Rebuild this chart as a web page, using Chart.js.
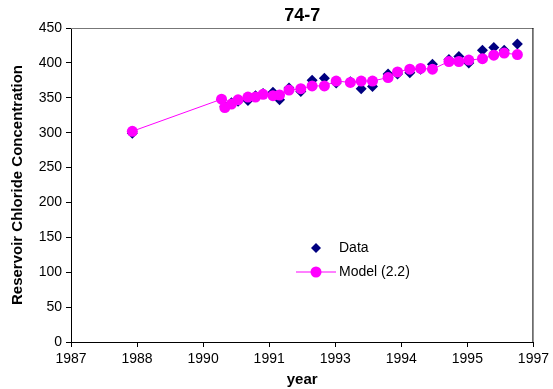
<!DOCTYPE html>
<html>
<head>
<meta charset="utf-8">
<script src="https://cdn.jsdelivr.net/npm/chart.js@4/dist/chart.umd.min.js"></script>
<style>
  html, body { margin: 0; padding: 0; background: #fff; }
  #wrap { width: 553px; height: 389px; }
</style>
</head>
<body>
<div id="wrap"><canvas id="c"></canvas></div>
<script>
// values
const years = [1988.30, 1990.19, 1990.26, 1990.40, 1990.54, 1990.75, 1990.91, 1991.07, 1991.28, 1991.42,
  1991.62, 1991.87, 1992.11, 1992.37, 1992.62, 1992.92, 1993.15, 1993.39, 1993.72, 1993.92,
  1994.18, 1994.41, 1994.66, 1995.01, 1995.22, 1995.43, 1995.72, 1995.96, 1996.18, 1996.46];
const dataValues = [299, 347, 338, 343, 345, 346, 353, 356, 358, 347,
  364, 359, 375, 378, 371, 373, 363, 366, 384, 384,
  386, 391, 398, 405, 409, 400, 418, 422, 418, 427];
const modelValues = [302, 348, 336, 341, 347, 351, 351, 355, 353, 354,
  361, 363, 367, 367, 374, 372, 374, 374, 379, 387,
  391, 392, 391, 402, 402, 404, 406, 411, 414, 412];

const xTickValues = [1987, 1988.4, 1989.8, 1991.2, 1992.6, 1994.0, 1995.4, 1996.8];
const xTickLabels = ['1987', '1988', '1990', '1991', '1993', '1994', '1995', '1997'];

const FONT = "'Liberation Sans', Arial, sans-serif";

// title, plot frame and legend drawn inside the plot like the original
const extras = {
  id: 'extras',
  afterDraw(chart) {
    const { ctx, chartArea: a } = chart;
    ctx.save();
    ctx.lineWidth = 1;
    ctx.strokeStyle = '#777';
    ctx.beginPath();
    ctx.moveTo(a.left, a.top + 0.5);
    ctx.lineTo(a.right, a.top + 0.5);
    ctx.stroke();
    ctx.strokeStyle = '#000';
    ctx.beginPath();
    ctx.moveTo(a.right - 0.5, a.top);
    ctx.lineTo(a.right - 0.5, a.bottom);
    ctx.stroke();

    ctx.fillStyle = '#000';
    ctx.font = "bold 18px " + FONT;
    ctx.textAlign = 'center';
    ctx.textBaseline = 'middle';
    ctx.fillText('74-7', (a.left + a.right) / 2, 16);

    // legend
    ctx.font = "14px " + FONT;
    ctx.textAlign = 'left';
    const lx = 316, ly1 = 248, ly2 = 272;
    ctx.fillStyle = '#000080';
    ctx.beginPath();
    ctx.moveTo(lx, ly1 - 5); ctx.lineTo(lx + 5, ly1); ctx.lineTo(lx, ly1 + 5); ctx.lineTo(lx - 5, ly1);
    ctx.closePath();
    ctx.fill();
    ctx.strokeStyle = '#ff00ff';
    ctx.beginPath();
    ctx.moveTo(296, ly2); ctx.lineTo(336, ly2);
    ctx.stroke();
    ctx.fillStyle = '#ff00ff';
    ctx.beginPath();
    ctx.arc(lx, ly2, 5.5, 0, Math.PI * 2);
    ctx.fill();
    ctx.fillStyle = '#000';
    ctx.fillText('Data', 339, ly1);
    ctx.fillText('Model (2.2)', 339, ly2);
    ctx.restore();
  }
};

new Chart(document.getElementById('c'), {
  type: 'scatter',
  data: {
    datasets: [
      {
        label: 'Model (2.2)',
        data: years.map((x, i) => ({ x, y: modelValues[i] })),
        showLine: true,
        borderColor: '#ff00ff',
        borderWidth: 1,
        backgroundColor: '#ff00ff',
        pointBackgroundColor: '#ff00ff',
        pointBorderColor: '#ff00ff',
        pointRadius: 5.5,
        pointBorderWidth: 0,
        order: 0
      },
      {
        label: 'Data',
        data: years.map((x, i) => ({ x, y: dataValues[i] })),
        pointStyle: 'rectRot',
        backgroundColor: '#000080',
        borderColor: '#000080',
        pointRadius: 5.5,
        pointBorderWidth: 0,
        order: 1
      }
    ]
  },
  options: {
    responsive: true,
    maintainAspectRatio: false,
    animation: false,
    layout: { padding: { left: 9, top: 28, right: 17, bottom: 0 } },
    plugins: { legend: { display: false }, tooltip: { enabled: false }, title: { display: false } },
    scales: {
      x: {
        type: 'linear',
        min: 1987,
        max: 1996.8,
        afterBuildTicks: (s) => { s.ticks = xTickValues.map(v => ({ value: v })); },
        afterFit: (s) => { s.height = 47; },
        ticks: {
          autoSkip: false,
          maxRotation: 0,
          color: '#000',
          font: { family: FONT, size: 14 },
          padding: 4,
          callback: (v, i) => xTickLabels[i]
        },
        grid: { drawOnChartArea: false, tickLength: 5, color: '#000' },
        border: { color: '#000', width: 1 },
        title: { display: true, text: 'year', color: '#000', font: { family: FONT, size: 15, weight: 'bold' }, padding: 0 }
      },
      y: {
        min: 0,
        max: 450,
        afterFit: (s) => { s.width = 62; },
        ticks: {
          stepSize: 50,
          color: '#000',
          font: { family: FONT, size: 14 },
          padding: 4
        },
        grid: { drawOnChartArea: false, tickLength: 5, color: '#000' },
        border: { color: '#000', width: 1 },
        title: { display: true, text: 'Reservoir Chloride Concentration', color: '#000', font: { family: FONT, size: 15, weight: 'bold' }, padding: 0 }
      }
    }
  },
  plugins: [extras]
});
</script>
</body>
</html>
